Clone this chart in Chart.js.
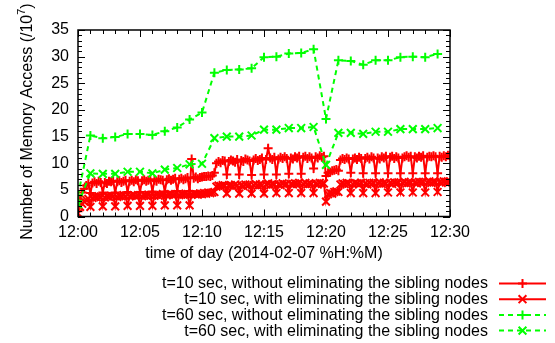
<!DOCTYPE html>
<html>
<head>
<meta charset="utf-8">
<script src="https://cdn.jsdelivr.net/npm/chart.js@4.4.1/dist/chart.umd.min.js"></script>
<style>
  body { margin: 0; background: #fff; }
  #wrap { width: 555px; height: 343px; }
</style>
</head>
<body>
<div id="wrap"><canvas id="chart" width="555" height="343"></canvas></div>
<script>
// legend labels
const seriesLabels = [
  't=10 sec, without eliminating the sibling nodes',
  't=10 sec, with eliminating the sibling nodes',
  't=60 sec, without eliminating the sibling nodes',
  't=60 sec, with eliminating the sibling nodes'
];

// x tick labels (minutes after 12:00)
const xTickMinutes = [0, 5, 10, 15, 20, 25, 30];
const yTicks = [0, 5, 10, 15, 20, 25, 30, 35];

// t=60 sec samples, one per minute from 12:00
const greenMinutes = [0, 1, 2, 3, 4, 5, 6, 7, 8, 9, 10, 11, 12, 13, 14, 15, 16, 17, 18, 19, 20, 21, 22, 23, 24, 25, 26, 27, 28, 29];
const greenWithout = [4.0, 15.2, 14.7, 14.9, 15.5, 15.5, 15.3, 16.0, 16.7, 18.2, 19.5, 27.0, 27.5, 27.6, 27.8, 29.9,
  30.0, 30.6, 30.7, 31.4, 18.3, 29.3, 29.2, 28.5, 29.3, 29.3, 29.9, 30.0, 29.9, 30.5];
const greenWith = [2.3, 8.1, 8.0, 8.0, 8.4, 8.4, 8.1, 8.8, 9.1, 9.8, 9.9, 14.7, 15.0, 15.0, 15.2, 16.3,
  16.3, 16.6, 16.6, 16.8, 9.7, 15.7, 15.7, 15.5, 15.9, 15.9, 16.4, 16.4, 16.4, 16.6];

// t=10 sec samples, six per minute (:00 :10 :20 :30 :40 :50) from 12:00, last one at 12:30
const redWithout = [
  1.0, 3.2, 4.5, 5.2, 5.8, 6.2,     // 12:00
  4.4, 6.3, 6.5, 6.2, 6.6, 6.4,     // 12:01
  4.5, 6.4, 6.2, 6.6, 6.5, 6.7,
  4.5, 6.5, 6.7, 6.4, 6.6, 6.8,
  4.6, 6.6, 6.8, 6.5, 6.9, 6.7,
  4.6, 6.7, 6.9, 6.6, 6.8, 7.0,     // 12:05
  4.7, 6.8, 6.6, 7.0, 6.9, 6.8,
  4.7, 6.9, 7.1, 6.8, 7.0, 7.2,
  4.8, 7.0, 7.2, 6.9, 7.1, 7.3,
  4.8, 10.8, 7.2, 7.4, 7.1, 7.3,
  7.4, 7.5, 7.5, 7.6, 7.5, 7.7,     // 12:10
  8.2, 10.0, 10.3, 10.1, 10.5, 10.4,
  7.9, 10.3, 10.6, 10.4, 10.2, 10.7,
  7.9, 10.5, 10.3, 10.8, 10.6, 10.4,
  7.8, 10.6, 10.9, 10.5, 10.7, 11.0,
  7.9, 10.7, 12.8, 11.0, 10.7, 11.1, // 12:15
  7.9, 10.8, 11.1, 10.9, 11.2, 10.9,
  8.0, 11.0, 10.8, 11.2, 11.0, 11.3,
  8.0, 11.1, 11.3, 10.9, 11.2, 11.0,
  9.0, 11.2, 11.0, 11.4, 11.1, 11.3,
  7.6, 8.2, 8.3, 8.6, 8.7, 8.8,     // 12:20
  8.6, 10.6, 10.9, 10.7, 11.0, 10.8,
  8.2, 10.8, 11.0, 10.7, 11.1, 10.9,
  8.1, 10.9, 11.1, 10.8, 11.2, 11.0,
  8.1, 11.0, 10.8, 11.2, 11.0, 11.3,
  8.1, 11.1, 11.3, 10.9, 11.2, 11.0, // 12:25
  8.1, 11.0, 11.2, 11.4, 11.1, 11.3,
  8.1, 11.2, 11.0, 11.3, 11.1, 11.4,
  8.1, 11.1, 11.3, 11.2, 11.4, 11.2,
  8.1, 11.3, 11.1, 11.4, 11.2, 11.5,
  11.4                               // 12:30
];
const redWith = [
  0.6, 1.8, 2.4, 2.8, 3.1, 3.3,     // 12:00
  1.8, 3.5, 3.7, 3.6, 3.8, 3.7,
  1.9, 3.6, 3.8, 3.7, 3.9, 3.8,
  1.9, 3.7, 3.9, 3.8, 4.0, 3.8,
  2.0, 3.8, 3.9, 4.0, 3.8, 4.0,
  2.0, 3.8, 4.0, 3.9, 4.1, 3.9,     // 12:05
  2.0, 3.9, 4.1, 3.9, 4.0, 4.2,
  2.1, 4.0, 4.1, 4.2, 4.0, 4.2,
  2.1, 4.0, 4.2, 4.1, 4.3, 4.1,
  2.1, 4.1, 4.3, 4.2, 4.1, 4.3,
  4.2, 4.4, 4.3, 4.5, 4.4, 4.5,     // 12:10
  4.6, 5.6, 5.8, 5.7, 5.9, 5.8,
  4.3, 5.8, 5.9, 5.7, 6.0, 5.8,
  4.3, 5.9, 5.7, 6.0, 5.8, 6.0,
  4.3, 5.9, 6.1, 5.8, 6.0, 5.9,
  4.3, 6.0, 6.2, 5.9, 6.1, 6.0,     // 12:15
  4.4, 6.0, 5.9, 6.2, 6.0, 6.1,
  4.4, 6.1, 6.0, 6.2, 6.1, 6.3,
  4.4, 6.1, 6.3, 6.0, 6.2, 6.1,
  4.4, 6.2, 6.0, 6.3, 6.1, 6.2,
  2.8, 4.2, 4.4, 4.3, 4.6, 4.7,     // 12:20
  4.6, 6.0, 6.2, 6.1, 6.3, 6.2,
  4.4, 6.1, 6.3, 6.2, 6.0, 6.3,
  4.4, 6.2, 6.0, 6.3, 6.1, 6.3,
  4.4, 6.2, 6.4, 6.1, 6.3, 6.2,
  4.5, 6.3, 6.1, 6.4, 6.2, 6.4,     // 12:25
  4.5, 6.3, 6.5, 6.2, 6.4, 6.3,
  4.5, 6.4, 6.2, 6.5, 6.3, 6.5,
  4.5, 6.4, 6.6, 6.3, 6.5, 6.4,
  4.6, 6.5, 6.3, 6.6, 6.4, 6.6,
  6.5                                // 12:30
];

const FONT = '"Liberation Sans", Arial, sans-serif';
const RED = '#ff0000';
const GREEN = '#00ff00';

function tenSec(values) {
  return values.map((v, i) => ({ x: i / 6, y: v }));
}
function perMinute(values) {
  return values.map((v, i) => ({ x: greenMinutes[i], y: v }));
}

// frame + inward gnuplot style ticks on all sides
const frameTicks = {
  id: 'frameTicks',
  afterDatasetsDraw(chart) {
    const { ctx, chartArea: a, scales } = chart;
    ctx.save();
    ctx.strokeStyle = '#000';
    ctx.lineWidth = 1;
    ctx.beginPath();
    for (let m = 0; m <= 30; m++) {
      const px = Math.round(scales.x.getPixelForValue(m)) + 0.5;
      const len = m % 5 === 0 ? 7 : 4;
      ctx.moveTo(px, a.bottom); ctx.lineTo(px, a.bottom - len);
      ctx.moveTo(px, a.top); ctx.lineTo(px, a.top + len);
    }
    for (let v = 0; v <= 35; v++) {
      const py = Math.round(scales.y.getPixelForValue(v)) + 0.5;
      const len = v % 5 === 0 ? 7 : 4;
      ctx.moveTo(a.left, py); ctx.lineTo(a.left + len, py);
      ctx.moveTo(a.right, py); ctx.lineTo(a.right - len, py);
    }
    ctx.stroke();
    ctx.lineWidth = 1.5;
    ctx.strokeRect(a.left, a.top, a.right - a.left, a.bottom - a.top);
    ctx.restore();
  }
};

function drawMarker(ctx, style, x, y, r) {
  ctx.beginPath();
  if (style === 'cross') {
    ctx.moveTo(x - r, y); ctx.lineTo(x + r, y);
    ctx.moveTo(x, y - r); ctx.lineTo(x, y + r);
  } else {
    const d = r * Math.SQRT1_2;
    ctx.moveTo(x - d, y - d); ctx.lineTo(x + d, y + d);
    ctx.moveTo(x - d, y + d); ctx.lineTo(x + d, y - d);
  }
  ctx.stroke();
}

// axis titles and the key at the bottom right
const titlesAndKey = {
  id: 'titlesAndKey',
  afterDraw(chart) {
    const { ctx, chartArea: a } = chart;
    ctx.save();
    ctx.fillStyle = '#000';
    ctx.font = '16px ' + FONT;

    // x title
    ctx.textAlign = 'center';
    ctx.textBaseline = 'middle';
    ctx.fillText('time of day (2014-02-07 %H:%M)', (a.left + a.right) / 2, 254);

    // y title with superscript
    ctx.save();
    ctx.translate(26, 121.5);
    ctx.rotate(-Math.PI / 2);
    const main = 'Number of Memory Access (/10';
    ctx.font = '16px ' + FONT;
    const w1 = ctx.measureText(main).width;
    ctx.font = '11px ' + FONT;
    const w2 = ctx.measureText('7').width;
    ctx.font = '16px ' + FONT;
    const w3 = ctx.measureText(')').width;
    let x0 = -(w1 + w2 + w3) / 2;
    ctx.textAlign = 'left';
    ctx.textBaseline = 'alphabetic';
    ctx.fillText(main, x0, 5.5);
    ctx.font = '11px ' + FONT;
    ctx.fillText('7', x0 + w1, -1);
    ctx.font = '16px ' + FONT;
    ctx.fillText(')', x0 + w1 + w2, 5.5);
    ctx.restore();

    // key
    chart.data.datasets.forEach((ds, i) => {
      const y = 283.5 + i * 15.7;
      ctx.font = '16px ' + FONT;
      ctx.textAlign = 'right';
      ctx.textBaseline = 'middle';
      ctx.fillStyle = '#000';
      ctx.fillText(ds.label, 488, y + 0.5);
      ctx.strokeStyle = ds.borderColor;
      ctx.lineWidth = ds.borderWidth;
      ctx.setLineDash(ds.borderDash || []);
      ctx.beginPath();
      ctx.moveTo(499, y); ctx.lineTo(546, y);
      ctx.stroke();
      ctx.setLineDash([]);
      ctx.lineWidth = ds.pointBorderWidth;
      drawMarker(ctx, ds.pointStyle, 522.5, y, ds.pointRadius);
    });
    ctx.restore();
  }
};

new Chart(document.getElementById('chart'), {
  type: 'line',
  data: {
    datasets: [
      {
        label: seriesLabels[0],
        data: tenSec(redWithout),
        borderColor: RED, backgroundColor: RED,
        borderWidth: 2,
        pointStyle: 'cross', pointRadius: 4.5, pointBorderWidth: 2,
        pointBorderColor: RED,
        order: 4
      },
      {
        label: seriesLabels[1],
        data: tenSec(redWith),
        borderColor: RED, backgroundColor: RED,
        borderWidth: 2,
        pointStyle: 'crossRot', pointRadius: 5.5, pointBorderWidth: 2,
        pointBorderColor: RED,
        order: 3
      },
      {
        label: seriesLabels[2],
        data: perMinute(greenWithout),
        borderColor: GREEN, backgroundColor: GREEN,
        borderWidth: 2, borderDash: [5, 4],
        pointStyle: 'cross', pointRadius: 4.5, pointBorderWidth: 2,
        pointBorderColor: GREEN,
        order: 2
      },
      {
        label: seriesLabels[3],
        data: perMinute(greenWith),
        borderColor: GREEN, backgroundColor: GREEN,
        borderWidth: 2, borderDash: [5, 4],
        pointStyle: 'crossRot', pointRadius: 5.5, pointBorderWidth: 2,
        pointBorderColor: GREEN,
        order: 1
      }
    ]
  },
  options: {
    responsive: false,
    animation: false,
    devicePixelRatio: 1,
    layout: { padding: { left: 0, top: 30, right: 105, bottom: 0 } },
    plugins: { legend: { display: false }, tooltip: { enabled: false } },
    elements: { line: { tension: 0, fill: false } },
    scales: {
      x: {
        type: 'linear',
        min: 0, max: 30,
        afterFit: s => { s.height = 126.5; },
        afterBuildTicks: s => { s.ticks = xTickMinutes.map(v => ({ value: v })); },
        grid: { display: false, drawTicks: false },
        border: { display: false },
        ticks: {
          padding: 6,
          color: '#000',
          maxRotation: 0,
          autoSkip: false,
          font: { family: FONT, size: 16 },
          callback: v => '12:' + String(v).padStart(2, '0')
        }
      },
      y: {
        min: 0, max: 35,
        afterFit: s => { s.width = 78; },
        afterBuildTicks: s => { s.ticks = yTicks.map(v => ({ value: v })); },
        grid: { display: false, drawTicks: false },
        border: { display: false },
        ticks: {
          padding: 9,
          color: '#000',
          font: { family: FONT, size: 16 }
        }
      }
    }
  },
  plugins: [frameTicks, titlesAndKey]
});
</script>
</body>
</html>
